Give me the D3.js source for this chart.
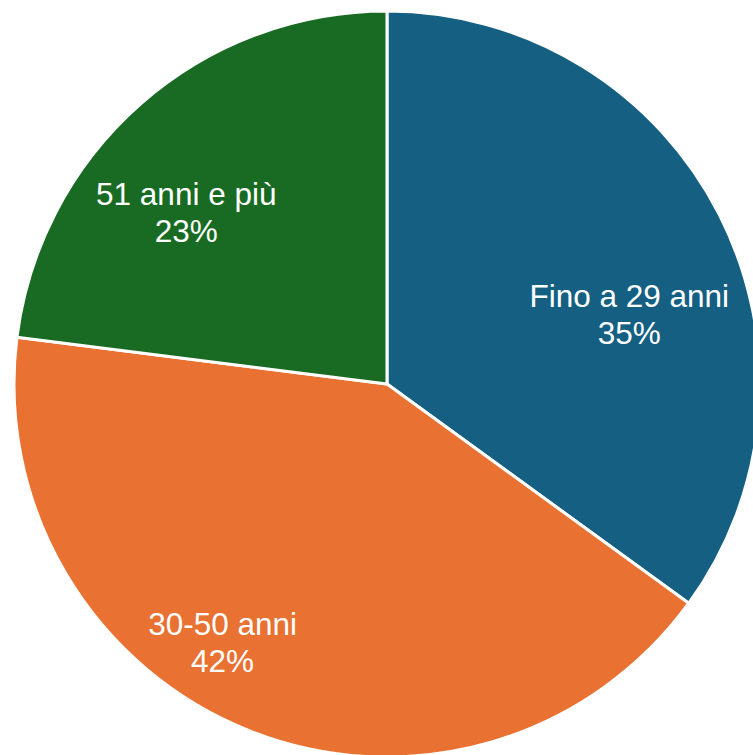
<!DOCTYPE html>
<html>
<head>
<meta charset="utf-8">
<script src="https://cdn.jsdelivr.net/npm/d3@7"></script>
<style>
  html, body { margin: 0; padding: 0; background: #ffffff; }
  svg { display: block; }
</style>
</head>
<body>
<svg id="chart" width="753" height="755"></svg>
<script>
// Data
const categories = ["Fino a 29 anni", "30-50 anni", "51 anni e più"];
const values = [35, 42, 23];
const percentLabels = ["35%", "42%", "23%"];

// Styling / layout (kept separate from data)
const colors = ["#156082", "#E97132", "#196B24"];
// label anchor placement: [angle in degrees clockwise from 12 o'clock, distance from centre]
const labelPlacement = [[74.0, 252], [212.5, 306], [310.5, 264]];

const W = 753, H = 755;
const cx = 387, cy = 384, R = 373;

const svg = d3.select("#chart");
const g = svg.append("g").attr("transform", `translate(${cx},${cy})`);

const pie = d3.pie().sort(null).value(d => d)(values);
const arc = d3.arc().innerRadius(0).outerRadius(R);

g.selectAll("path.slice")
  .data(pie)
  .join("path")
  .attr("class", "slice")
  .attr("d", arc)
  .attr("fill", (d, i) => colors[i])
  .attr("stroke", "#ffffff")
  .attr("stroke-width", 3)
  .attr("stroke-linejoin", "round");

const fontSize = 31.5;
const labels = g.selectAll("g.label")
  .data(pie)
  .join("g")
  .attr("class", "label")
  .attr("transform", (d, i) => {
    const a = labelPlacement[i][0] * Math.PI / 180;
    const r = labelPlacement[i][1];
    return `translate(${r * Math.sin(a)},${-r * Math.cos(a)})`;
  });

labels.append("text")
  .attr("text-anchor", "middle")
  .attr("y", -7.5)
  .attr("fill", "#ffffff")
  .attr("font-family", "Liberation Sans, Arial, sans-serif")
  .attr("font-size", fontSize)
  .text((d, i) => categories[i]);

labels.append("text")
  .attr("text-anchor", "middle")
  .attr("y", 29.5)
  .attr("fill", "#ffffff")
  .attr("font-family", "Liberation Sans, Arial, sans-serif")
  .attr("font-size", fontSize)
  .text((d, i) => percentLabels[i]);
</script>
</body>
</html>
